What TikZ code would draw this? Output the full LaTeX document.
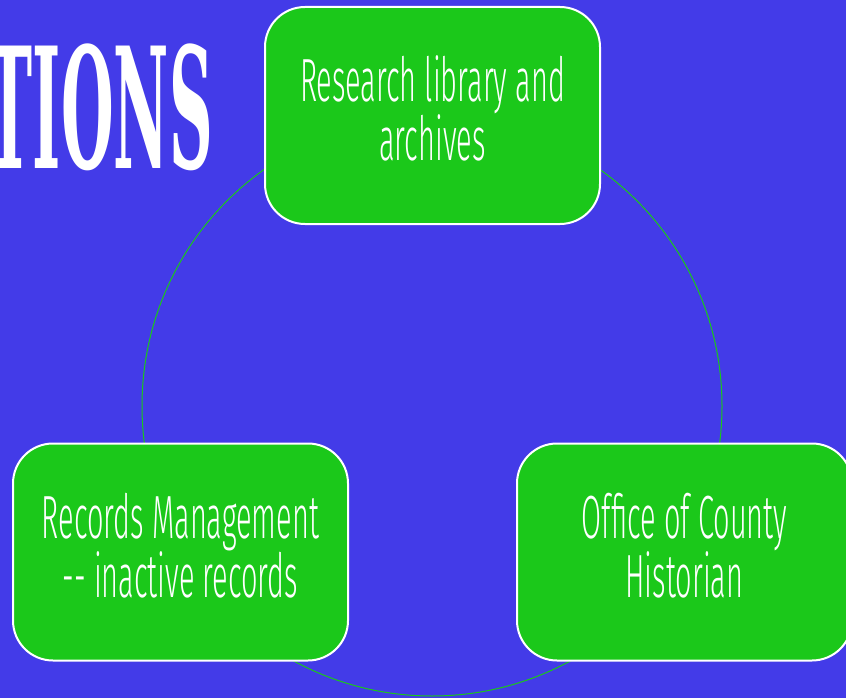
\documentclass[tikz,border=0pt]{standalone}
\usepackage{fontspec}
\newfontfamily\boxfont[FakeStretch=0.475]{Fira Sans Light}
\newfontfamily\titlefont[FakeStretch=0.36]{DejaVu Serif Bold}
\definecolor{slide}{RGB}{67,59,232}
\definecolor{leaf}{RGB}{27,200,26}
\begin{document}
\begin{tikzpicture}
  [x=1pt,y=-1pt,
   part/.style={rectangle,rounded corners=40pt,draw=white,line width=2pt,fill=leaf,
     minimum width=335pt,minimum height=217pt,align=center,text=white,
     font=\boxfont\fontsize{61}{59}\selectfont},
   ring/.style={draw=leaf,line width=1pt}]
  \useasboundingbox (0,0) rectangle (846,698);
  \clip (0,0) rectangle (846,698);
  \fill[slide] (0,0) rectangle (846,698);

  \node[anchor=base east,text=white,inner sep=0pt,font=\titlefont\fontsize{168}{168}\selectfont] (title) at (213,168) {TIONS};

  \coordinate (hub) at (432,406);
  \draw[ring] (hub) circle[radius=290];

  \node[part] (library) at (432.5,115.5) {Research library and\\archives\rule[-14pt]{0pt}{1pt}};
  \node[part] (records) at (180.5,552) {Records Management\\-- inactive records\rule[-14pt]{0pt}{1pt}};
  \node[part] (historian) at (684.5,552) {Office of County\\Historian\rule[-14pt]{0pt}{1pt}};
\end{tikzpicture}
\end{document}
